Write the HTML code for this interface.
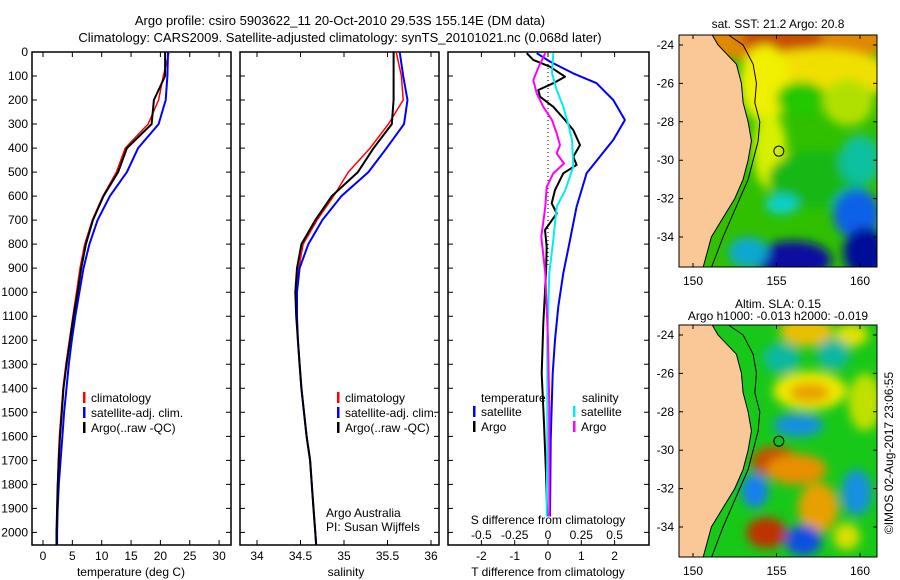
<!DOCTYPE html>
<html><head><meta charset="utf-8"><style>
html,body{margin:0;padding:0;background:#fff}
svg{display:block;font-family:"Liberation Sans",sans-serif}
text{font-size:12px;fill:#000}
</style></head><body>
<svg id="fig" width="900" height="580" viewBox="0 0 900 580">
<defs>
<filter id="blur" x="-20%" y="-20%" width="140%" height="140%"><feGaussianBlur stdDeviation="5"/></filter>
<clipPath id="clipM1"><rect x="679" y="35" width="198" height="232"/></clipPath>
<clipPath id="clipM2"><rect x="679" y="325" width="198" height="232"/></clipPath>
</defs>
<text x="340" y="25" text-anchor="middle" style="font-size:13px">Argo profile: csiro 5903622_11 20-Oct-2010 29.53S 155.14E (DM data)</text>
<text x="340" y="42" text-anchor="middle" style="font-size:13px">Climatology: CARS2009. Satellite-adjusted climatology: synTS_20101021.nc (0.068d later)</text>
<g id="p1"></g>
<g id="p2"></g>
<g id="p3"></g>
<g id="m1"></g>
<g id="m2"></g>
<text transform="translate(893,453) rotate(-90)" text-anchor="middle">©IMOS 02-Aug-2017 23:06:55</text>
</svg>
<script>
// ---- data ----
const depths=[0,100,200,300,400,500,600,700,800,900,1000,1100,1200,1300,1400,1500,1600,1700,1800,1900,2000,2054];
const argoT=[20.8,20.8,18.9,18.5,14.3,12.8,10.3,8.5,7.3,6.5,5.9,5.2,4.6,4.0,3.5,3.2,2.9,2.7,2.5,2.4,2.3,2.3];
const climT=[21.5,20.5,19.7,17.9,14.0,12.5,10.2,8.4,7.1,6.3,5.7,5.1,4.5,3.9,3.4,3.1,2.8,2.6,2.5,2.4,2.3,2.3];
const satT=[21.3,21.2,20.9,19.7,16.2,14.3,11.4,9.3,7.9,6.9,6.2,5.5,4.9,4.4,4.0,3.6,3.3,3.0,2.7,2.5,2.4,2.4];
const argoS=[35.57,35.57,35.57,35.55,35.34,35.16,34.86,34.67,34.51,34.46,34.44,34.45,34.47,34.49,34.51,34.54,34.57,34.61,34.63,34.65,34.67,34.68];
const climS=[35.6,35.66,35.68,35.51,35.3,35.05,34.88,34.69,34.53,34.48,34.45,34.46,34.47,34.49,34.51,34.54,34.57,34.61,34.63,34.65,34.67,34.68];
const satS=[35.64,35.68,35.73,35.69,35.49,35.28,34.97,34.75,34.59,34.49,34.46,34.46,34.47,34.49,34.51,34.54,34.57,34.61,34.63,34.65,34.67,34.68];
const dTdepth=[5,33,61,103,130,158,186,228,283,325,387,436,470,505,575,630,672,741,810,921,1130,1338,1546,1754,1934];
const dTargo=[-0.64,-0.44,0.06,0.51,0.16,-0.29,-0.24,0.16,0.51,0.76,0.96,0.76,0.86,0.46,0.21,0.11,0.26,-0.09,-0.04,-0.06,-0.14,-0.19,-0.12,-0.06,-0.02];
const dTsatDepth=[5,40,89,130,172,200,283,366,505,644,783,921,1060,1199,1338,1615,1934];
const dTsat=[-0.34,0.06,0.76,1.46,1.76,1.96,2.31,1.96,1.16,0.86,0.66,0.46,0.31,0.21,0.14,0.08,0.06];
const dSsatDepth=[5,89,158,228,297,366,477,575,644,783,921,1199,1615,1934];
const dSsat=[0.04,0.03,0.065,0.115,0.15,0.18,0.19,0.13,0.065,0.04,0.01,-0.005,-0.005,-0.01];
const dSargoDepth=[5,61,117,172,228,283,339,387,422,464,505,561,644,769,921,1199,1477,1934];
const dSargo=[-0.02,-0.07,-0.11,-0.085,-0.035,0.03,0.065,0.09,0.065,0.12,0.04,-0.01,-0.02,-0.05,-0.02,0.0,0.01,0.01];
const depthTicks=[0,100,200,300,400,500,600,700,800,900,1000,1100,1200,1300,1400,1500,1600,1700,1800,1900,2000];
const tTicks=[0,5,10,15,20,25,30];
const sTicks=[34,34.5,35,35.5,36];
const sTickLabels=["34","34.5","35","35.5","36"];
const dTTicks=[-2,-1,0,1,2];
const dSTicks=[-0.5,-0.25,0,0.25,0.5];
const dSTickLabels=["-0.5","-0.25","0","0.25","0.5"];
const lonTicks=[150,155,160];
const latTicks=[-24,-26,-28,-30,-32,-34];

const NS="http://www.w3.org/2000/svg";
function mk(parent,tag,attrs,txt){const e=document.createElementNS(NS,tag);for(const k in attrs)e.setAttribute(k,attrs[k]);if(txt!==undefined)e.textContent=txt;parent.appendChild(e);return e;}
const TOP=52,BOT=545;
const yD=d=>TOP+d*0.2402;
const xT=t=>43+t*5.87;
const xS=s=>257+(s-34)*87;
const xdT=t=>548+t*33.3;
const xdS=s=>548+s*133.2;

function frame(g,x0,x1,yLabels){
  const r=mk(g,'rect',{x:x0,y:TOP,width:x1-x0,height:BOT-TOP,fill:'none',stroke:'#000','stroke-width':1.5});
  
  
  depthTicks.forEach(d=>{
    const y=yD(d);
    const t=mk(g,'path',{d:`M${x0},${y}h5M${x1},${y}h-5`,stroke:'#000','stroke-width':1});
    
    
    if(yLabels){const l=mk(g,'text',{x:x0-4,y:y+4,'text-anchor':'end'},String(d));
      
      }
  });
}
function xticks(g,vals,labels,fx,ylab){
  vals.forEach((v,i)=>{const x=fx(v);
    const t=mk(g,'path',{d:`M${x},${BOT}v-5M${x},${TOP}v5`,stroke:'#000'});
    
    
    const l=mk(g,'text',{x:x,y:ylab,'text-anchor':'middle'},labels[i]);
    
    });
}
function line(g,xs,ds,fx,color,w,name){
  const d=xs.map((v,i)=>(i?'L':'M')+fx(v).toFixed(1)+','+yD(ds[i]).toFixed(1)).join('');
  const p=mk(g,'path',{d:d,fill:'none',stroke:color,'stroke-width':w,'stroke-linejoin':'round'});
  
  
}
function legend(g,x,y,items){
  items.forEach((it,i)=>{
    const m=mk(g,'rect',{x:x,y:y+i*15-10,width:2.5,height:11,fill:it[1]});
    
    
    const t=mk(g,'text',{x:x+8,y:y+i*15},it[0]);
    
    
  });
}
// panel 1
const p1=document.getElementById('p1');
frame(p1,32,231,true);
xticks(p1,tTicks,tTicks.map(String),xT,560);
line(p1,climT,depths,xT,'#f00',1.5,'climatology-temperature-line');
line(p1,satT,depths,xT,'#00f',2,'satellite-temperature-line');
line(p1,argoT,depths,xT,'#000',2,'argo-temperature-line');
legend(p1,83,402,[['climatology','#f00'],['satellite-adj. clim.','#00f'],['Argo(..raw -QC)','#000']]);
let t=mk(p1,'text',{x:131,y:576,'text-anchor':'middle'},'temperature (deg C)');


// panel 2
const p2=document.getElementById('p2');
frame(p2,240,439,false);
xticks(p2,sTicks,sTickLabels,xS,560);
line(p2,climS,depths,xS,'#f00',1.5,'climatology-salinity-line');
line(p2,satS,depths,xS,'#00f',2,'satellite-salinity-line');
line(p2,argoS,depths,xS,'#000',2,'argo-salinity-line');
legend(p2,337,402,[['climatology','#f00'],['satellite-adj. clim.','#00f'],['Argo(..raw -QC)','#000']]);
t=mk(p2,'text',{x:346,y:576,'text-anchor':'middle'},'salinity');


t=mk(p2,'text',{x:326,y:517},'Argo Australia');


t=mk(p2,'text',{x:326,y:531},'PI: Susan Wijffels');


// panel 3
const p3=document.getElementById('p3');
frame(p3,448,649,false);
xticks(p3,dTTicks,dTTicks.map(String),xdT,560);
const zl=mk(p3,'path',{d:`M548,${TOP}V${yD(900)}`,stroke:'#000','stroke-dasharray':'1,3'});


line(p3,dTsat,dTsatDepth,xdT,'#00f',2,'satellite-t-diff-line');
line(p3,dTargo,dTdepth,xdT,'#000',2,'argo-t-diff-line');
line(p3,dSsat,dSsatDepth,xdS,'#0ee',2,'satellite-s-diff-line');
line(p3,dSargo,dSargoDepth,xdS,'#f0f',2,'argo-s-diff-line');
dSTicks.forEach((v,i)=>{const l=mk(p3,'text',{x:xdS(v),y:539,'text-anchor':'middle'},dSTickLabels[i]);
  
  });
t=mk(p3,'text',{x:548,y:524,'text-anchor':'middle'},'S difference from climatology');


t=mk(p3,'text',{x:548,y:576,'text-anchor':'middle'},'T difference from climatology');


t=mk(p3,'text',{x:481,y:402},'temperature');


t=mk(p3,'text',{x:582,y:402},'salinity');


legend(p3,473,416,[['satellite','#00f'],['Argo','#000']]);
legend(p3,573,416,[['satellite','#0ee'],['Argo','#f0f']]);

// maps
const coast=[[151.1,-23.4],[151.5,-24],[152.6,-25],[152.9,-26],[153.0,-27],[153.3,-28],[153.5,-29],[153.3,-30],[153.0,-31],[152.5,-32],[151.8,-33],[151.1,-34],[150.6,-35.6]];
const shelf=[[152,-23.4],[153,-24],[153.6,-25],[153.8,-26],[153.7,-27],[154,-28],[153.9,-29],[153.6,-30],[153.3,-31],[152.8,-32],[152.3,-33],[151.8,-34],[151.1,-35.6]];
const m1Blobs=[
 [156,-23.7,6,1.3,'#e08800'],[155.3,-23.6,2.5,0.8,'#c85000'],[157.5,-25.6,4.5,1.4,'#f0e000'],
 [154.3,-26,1.5,2,'#f0f000'],[154.6,-29.5,1,2,'#d8f000'],[156.5,-26.8,1.5,0.9,'#20c800'],
 [159.3,-27,1.5,1.2,'#b0e000'],[157.5,-31,3,1.5,'#18b818'],[160,-30,1.2,1.3,'#10c0a0'],
 [155.3,-32.3,1,0.5,'#10d0d0'],[159.8,-32.8,1.4,1.3,'#1060e8'],[156,-35.2,2.3,1,'#0a10a0'],
 [160.3,-34.8,1.3,1.3,'#000c98'],[153.3,-34.8,1.2,0.8,'#10a8d0']];
const m2Blobs=[
 [156.8,-23.8,1.6,0.8,'#e8c000'],[159.5,-24,1,0.6,'#e0e000'],[155.3,-25.2,1.1,0.8,'#10b8a0'],[158.4,-25,1,0.8,'#10b8a0'],
 [157,-26.9,2.2,1,'#f0e800'],[157,-27,1.2,0.5,'#e8a000'],[156.3,-28.7,1.5,0.6,'#1890e0'],[160.3,-27.5,1,1.5,'#c0e000'],
 [154.9,-30.6,1.4,0.8,'#c85000'],[156.2,-31,1.8,0.8,'#e89000'],[157.5,-33,1.2,1.3,'#e8a000'],
 [153.7,-32.1,0.8,0.9,'#1880f0'],[159.8,-32.2,0.9,1.2,'#1890e0'],[154.4,-34.3,1.2,0.8,'#c03000'],
 [156.6,-34.7,1.1,0.8,'#1050e0'],[159.2,-34.5,0.8,0.7,'#d8e000']];
function map(gid,top,clip,blobs,base,title1,title2){
  const g=document.getElementById(gid);
  const lat0=top+10;
  const X=l=>693+(l-150)*16.7, Y=a=>lat0+(-24-a)*19.2;
  const c=mk(g,'g',{'clip-path':'url(#'+clip+')'});
  mk(c,'rect',{x:679,y:top,width:198,height:232,fill:base});
  const bg=mk(c,'g',{filter:'url(#blur)'});
  blobs.forEach(b=>{const e=mk(bg,'ellipse',{cx:X(b[0]),cy:Y(b[1]),rx:b[2]*16.7,ry:b[3]*19.2,fill:b[4]});
    
    });
  const land='M679,'+top+'L'+coast.map(p=>X(p[0])+','+Y(p[1])).join('L')+'L679,'+(top+232)+'Z';
  const lp=mk(c,'path',{d:land,fill:'#f9c896',stroke:'#000','stroke-width':1});
  
  
  const sl=mk(c,'path',{d:'M'+shelf.map(p=>X(p[0])+','+Y(p[1])).join('L'),fill:'none',stroke:'#000','stroke-width':1});
  
  
  const mk1=mk(g,'circle',{cx:X(155.14),cy:Y(-29.53),r:5,fill:gid==='m2'?'#10c020':'none',stroke:'#000'});
  
  
  const fr=mk(g,'rect',{x:679,y:top,width:198,height:232,fill:'none',stroke:'#000'});
  
  
  lonTicks.forEach(l=>{const x=X(l);mk(g,'path',{d:`M${x},${top}v4M${x},${top+232}v-4`,stroke:'#000'});
    const tl=mk(g,'text',{x:x,y:top+250,'text-anchor':'middle'},String(l));
    
    });
  latTicks.forEach(a=>{const y=Y(a);mk(g,'path',{d:`M679,${y}h4M877,${y}h-4`,stroke:'#000'});
    const tl=mk(g,'text',{x:674,y:y+4,'text-anchor':'end'},String(a));
    
    });
  if(title1){const a=mk(g,'text',{x:778,y:title2?top-17:top-7,'text-anchor':'middle'},title1);
    
    }
  if(title2){const b=mk(g,'text',{x:778,y:top-5,'text-anchor':'middle'},title2);
    
    }
}
map('m1',35,'clipM1',m1Blobs,'#30c000','sat. SST: 21.2 Argo: 20.8');
map('m2',325,'clipM2',m2Blobs,'#18c818','Altim. SLA: 0.15','Argo h1000: -0.013 h2000: -0.019');
</script>
</body></html>
